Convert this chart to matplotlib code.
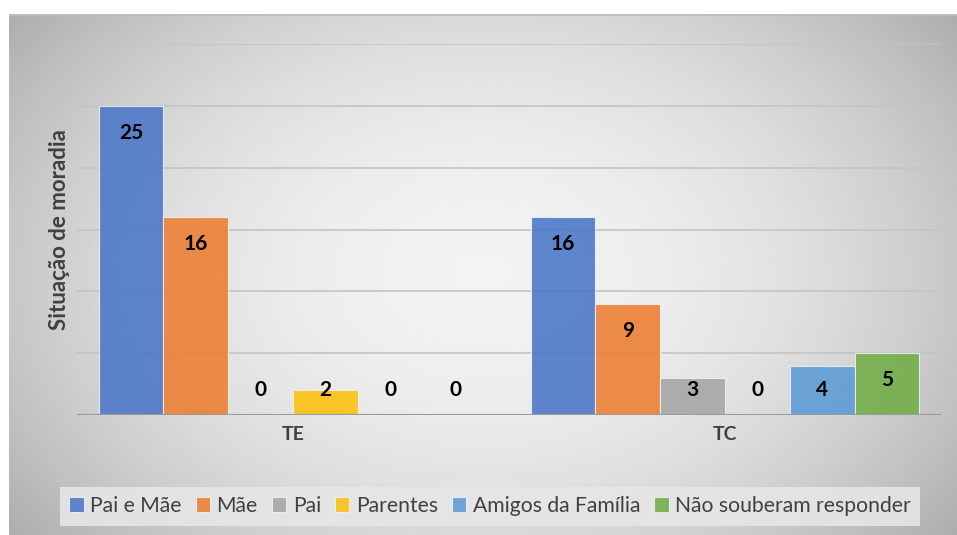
import matplotlib.pyplot as plt
import numpy as np

groups = ["TE", "TC"]
series = ["Pai e Mãe", "Mãe", "Pai", "Parentes", "Amigos da Família", "Não souberam responder"]
values = {
    "Pai e Mãe": [25, 16],
    "Mãe": [16, 9],
    "Pai": [0, 3],
    "Parentes": [2, 0],
    "Amigos da Família": [0, 4],
    "Não souberam responder": [0, 5],
}
colors = ["#4a76c8", "#ed7d31", "#a5a5a5", "#fdc00f", "#5b9bd5", "#70ad47"]

plt.rcParams['font.family'] = ['Lato', 'DejaVu Sans']

fig = plt.figure(figsize=(9.57, 5.35), dpi=100)
fig.patch.set_facecolor('white')

# panel with soft radial gradient
bg = fig.add_axes([9/957, 0, 948/957, 521/535], zorder=-5)
yy, xx = np.mgrid[-1:1:200j, -1:1:400j]
r = np.sqrt((xx / 1.0) ** 2 + (yy / 1.3) ** 2)
shade = 0.95 - 0.17 * np.clip(r, 0, 1.3) ** 2
bg.imshow(shade, cmap='gray', vmin=0, vmax=1, aspect='auto', extent=[0, 1, 0, 1])
bg.axhline(1, color='#bdbdbd', lw=2)
bg.set_axis_off()

ax = fig.add_axes([77/957, 120/535, 864/957, 371/535])
ax.set_facecolor('none')

x = np.arange(len(groups))
width = 0.15
for i, (name, col) in enumerate(zip(series, colors)):
    pos = x + (i - 2.5) * width
    vals = values[name]
    ax.bar(pos, vals, width, color=col, alpha=0.88, edgecolor='#f0f0f0', linewidth=0.8,
           label=name, zorder=3)
    for px, v in zip(pos, vals):
        ax.text(px, max(v - 2.2, 2.0), str(v), ha='center', va='center',
                fontsize=15, fontweight='bold', color='black', zorder=4)

ax.set_xlim(-0.5, 1.5)
ax.set_ylim(0, 30)
ax.set_yticks(np.arange(0, 31, 5))
ax.set_yticklabels([])
ax.tick_params(axis='y', length=0)
ax.grid(axis='y', color='#c4c4c4', linewidth=1.2, zorder=0)
ax.axhline(0, color='#9a9a9a', linewidth=1.5, zorder=5)
for s in ax.spines.values():
    s.set_visible(False)

ax.set_xticks(x)
ax.set_xticklabels(groups, fontsize=14, fontweight='bold', color='#404040')
ax.tick_params(axis='x', length=0, pad=8)

fig.text(60/957, 1 - 230/535, "Situação de moradia", rotation=90, ha='center', va='center',
         fontsize=16, fontweight='bold', color='#404040')

leg = fig.legend(loc='center', bbox_to_anchor=(490/957, 1 - 506/535), ncol=6,
                 fontsize=15.2, frameon=True, fancybox=False, handlelength=0.7,
                 handleheight=0.7, handletextpad=0.3, columnspacing=0.65,
                 borderpad=0.45, labelcolor='#404040')
leg.get_frame().set_facecolor('#e6e6e6')
leg.get_frame().set_edgecolor('none')
leg.get_frame().set_alpha(0.9)

fig.savefig('out.png', dpi=100)
